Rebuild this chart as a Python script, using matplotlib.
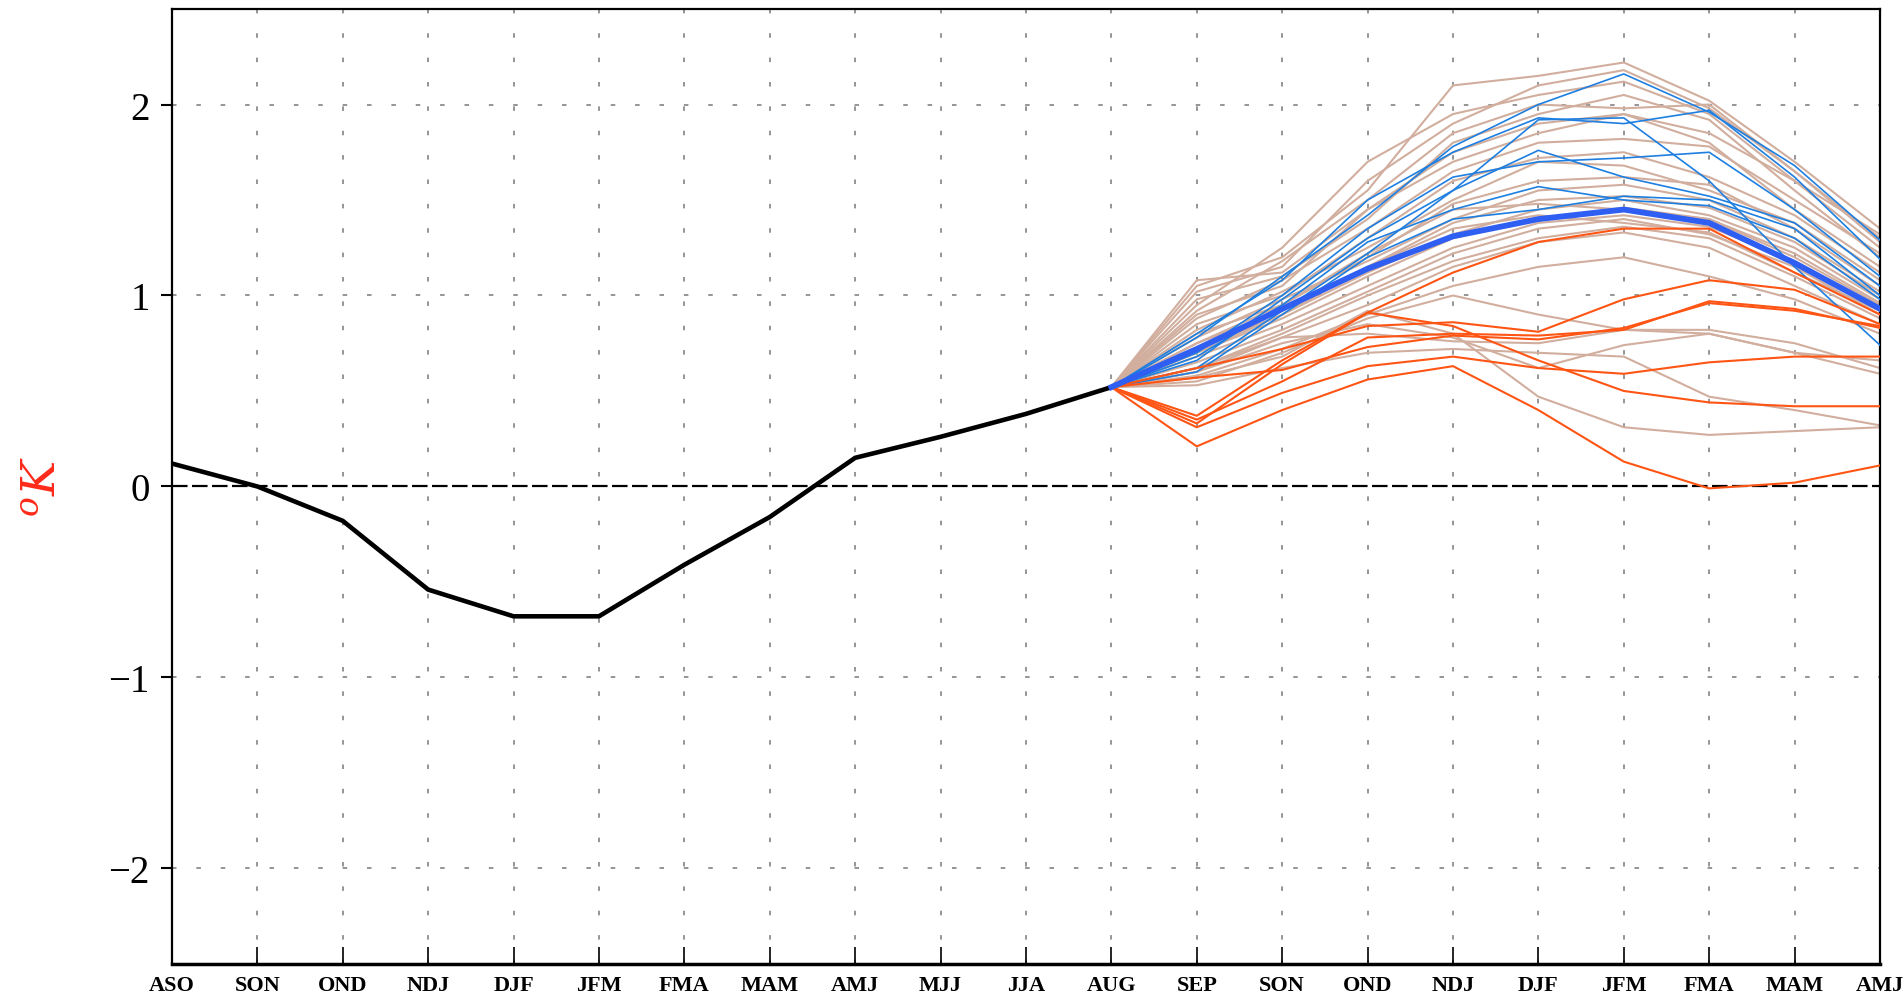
import matplotlib
matplotlib.use("Agg")
import matplotlib.pyplot as plt

plt.rcParams['font.family'] = ['Liberation Serif', 'DejaVu Serif']
plt.rcParams['mathtext.fontset'] = 'dejavuserif'

# seasons on the x axis
seasons = ["ASO", "SON", "OND", "NDJ", "DJF", "JFM", "FMA", "MAM", "AMJ", "MJJ", "JJA",
           "AUG", "SEP", "SON", "OND", "NDJ", "DJF", "JFM", "FMA", "MAM", "AMJ"]
y_ticks = [-2, -1, 0, 1, 2]

# observed anomaly, ASO .. AUG
observed = [0.12, 0.0, -0.18, -0.54, -0.68, -0.68, -0.41, -0.16, 0.15, 0.26, 0.38, 0.52]

# forecast members, SEP .. AMJ (all start from the last observed value)
tan_members = [
    [1.05, 1.20, 1.55, 2.10, 2.15, 2.22, 2.02, 1.70, 1.35],
    [1.02, 1.15, 1.60, 1.90, 2.10, 2.18, 1.98, 1.65, 1.30],
    [0.95, 1.25, 1.70, 1.95, 2.05, 2.12, 1.95, 1.60, 1.25],
    [0.98, 1.10, 1.40, 1.80, 1.95, 2.05, 1.92, 1.55, 1.20],
    [0.90, 1.05, 1.45, 1.70, 1.85, 1.95, 1.80, 1.45, 1.15],
    [0.88, 1.08, 1.35, 1.65, 1.80, 1.82, 1.78, 1.50, 1.22],
    [0.85, 1.00, 1.30, 1.60, 1.72, 1.75, 1.62, 1.42, 1.12],
    [0.82, 1.02, 1.25, 1.50, 1.70, 1.68, 1.55, 1.38, 1.08],
    [0.80, 0.95, 1.20, 1.48, 1.60, 1.62, 1.58, 1.35, 1.05],
    [0.78, 0.98, 1.18, 1.40, 1.55, 1.58, 1.50, 1.30, 1.02],
    [0.75, 0.92, 1.15, 1.38, 1.50, 1.52, 1.46, 1.28, 1.00],
    [0.72, 0.90, 1.12, 1.32, 1.45, 1.50, 1.42, 1.25, 0.98],
    [0.70, 0.88, 1.10, 1.30, 1.40, 1.46, 1.40, 1.20, 0.95],
    [0.68, 0.85, 1.05, 1.25, 1.38, 1.42, 1.36, 1.18, 0.93],
    [0.65, 0.82, 1.02, 1.22, 1.35, 1.40, 1.32, 1.15, 0.90],
    [0.62, 0.80, 1.00, 1.18, 1.30, 1.36, 1.30, 1.10, 0.88],
    [0.60, 0.78, 0.95, 1.15, 1.28, 1.33, 1.25, 1.05, 0.85],
    [0.58, 0.72, 0.90, 1.05, 1.15, 1.20, 1.10, 0.98, 0.80],
    [0.55, 0.70, 0.88, 1.00, 0.90, 0.82, 0.80, 0.70, 0.66],
    [0.60, 0.75, 0.85, 0.78, 0.62, 0.74, 0.80, 0.70, 0.59],
    [0.57, 0.68, 0.92, 0.80, 0.47, 0.31, 0.27, 0.29, 0.31],
    [0.53, 0.62, 0.70, 0.72, 0.70, 0.68, 0.47, 0.40, 0.32],
    [0.62, 0.78, 0.80, 0.76, 0.75, 0.82, 0.82, 0.75, 0.62],
    [1.08, 1.12, 1.45, 1.75, 1.90, 1.95, 1.85, 1.60, 1.32],
    [0.92, 1.18, 1.50, 1.85, 2.00, 1.98, 2.00, 1.65, 1.28],
    [0.75, 0.95, 1.22, 1.45, 1.48, 1.45, 1.40, 1.22, 0.96],
    [0.70, 0.90, 1.15, 1.35, 1.42, 1.38, 1.33, 1.12, 0.92],
]
blue_members = [
    [0.78, 1.10, 1.42, 1.78, 2.00, 2.16, 1.96, 1.68, 1.29],
    [0.66, 0.98, 1.30, 1.55, 1.92, 1.93, 1.60, 1.15, 0.74],
    [0.80, 1.08, 1.50, 1.75, 1.93, 1.90, 1.97, 1.62, 1.19],
    [0.70, 1.00, 1.35, 1.62, 1.70, 1.72, 1.75, 1.45, 1.10],
    [0.62, 0.92, 1.22, 1.55, 1.76, 1.62, 1.52, 1.38, 1.05],
    [0.68, 0.95, 1.28, 1.45, 1.57, 1.50, 1.47, 1.30, 0.98],
    [0.60, 0.90, 1.20, 1.40, 1.45, 1.52, 1.50, 1.35, 1.00],
]
orange_members = [
    [0.62, 0.72, 0.84, 0.86, 0.81, 0.98, 1.08, 1.03, 0.85],
    [0.37, 0.66, 0.91, 1.12, 1.28, 1.35, 1.35, 1.12, 0.90],
    [0.33, 0.64, 0.91, 0.84, 0.66, 0.50, 0.44, 0.42, 0.42],
    [0.57, 0.61, 0.73, 0.79, 0.77, 0.83, 0.96, 0.92, 0.84],
    [0.31, 0.49, 0.63, 0.68, 0.62, 0.59, 0.65, 0.68, 0.68],
    [0.21, 0.40, 0.56, 0.63, 0.40, 0.13, -0.01, 0.02, 0.11],
    [0.35, 0.55, 0.78, 0.80, 0.79, 0.82, 0.97, 0.93, 0.83],
]
ens_mean = [0.72, 0.93, 1.14, 1.31, 1.40, 1.45, 1.38, 1.17, 0.93]

x_obs = list(range(len(observed)))
x_fc = list(range(len(observed) - 1, len(seasons)))
start = observed[-1]

fig = plt.figure(figsize=(19.04, 10.03), dpi=100)
ax = fig.add_axes([0.0903, 0.038, 0.8971, 0.952])

for m in tan_members:
    ax.plot(x_fc, [start] + m, color='#d1ae9e', lw=1.5, zorder=2)
for m in blue_members:
    ax.plot(x_fc, [start] + m, color='#1e7fe0', lw=1.2, zorder=3)
for m in orange_members:
    ax.plot(x_fc, [start] + m, color='#ff5514', lw=1.5, zorder=4)

ax.plot(x_obs, observed, color='black', lw=3.3, zorder=5)
ax.plot(x_fc, [start] + ens_mean, color='#2f5ef2', lw=4.2, zorder=6)

ax.set_xlim(0, len(seasons) - 1)
ax.set_ylim(-2.5, 2.5)

# grid: dotted grey, zero line black dashed
for i in range(1, len(seasons) - 1):
    ax.axvline(i, color='#8c8c8c', lw=1.3, dashes=(2.5, 11), zorder=1)
for v in y_ticks:
    if v == 0:
        ax.axhline(0, color='black', lw=1.6, dashes=(7, 2), zorder=1)
    else:
        ax.axhline(v, color='#8c8c8c', lw=1.3, dashes=(2.5, 11), zorder=1)

ax.set_xticks(range(len(seasons)))
ax.set_xticklabels(seasons, fontsize=16, fontweight='bold')
ax.set_yticks(y_ticks)
ax.set_yticklabels([str(v).replace('-', '\u2212') for v in y_ticks], fontsize=28)
ax.tick_params(axis='x', direction='in', length=12, width=1.2, pad=8)
ax.tick_params(axis='y', direction='out', length=8, width=1.5, pad=8)

for s in ax.spines.values():
    s.set_color('black')
    s.set_linewidth(1.6)
ax.spines['bottom'].set_linewidth(2.5)

fig.text(0.024, 0.515, r'$^{o}K$', color='#ff2a1a', fontsize=34,
         rotation=90, ha='center', va='center')

fig.savefig('out.png', dpi=100)
